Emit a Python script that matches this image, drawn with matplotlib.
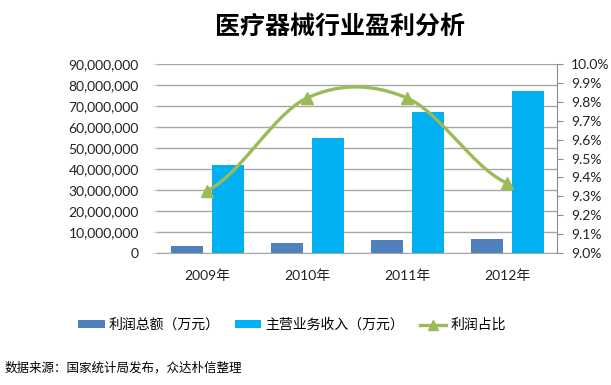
import numpy as np
import matplotlib
matplotlib.use("Agg")
import matplotlib.pyplot as plt
from matplotlib.ticker import FuncFormatter, MultipleLocator

plt.rcParams['font.family'] = ['Lato', 'Noto Sans CJK SC', 'DejaVu Sans']

years = ['2009年', '2010年', '2011年', '2012年']
profit = [3200000, 4600000, 6200000, 6900000]
revenue = [42000000, 54800000, 67000000, 77000000]
ratio = [9.33, 9.82, 9.82, 9.37]

c_dark = '#4F81BD'
c_light = '#00B0F0'
c_green = '#9BBB59'
grid_c = '#A6A6A6'

fig = plt.figure(figsize=(6.11, 3.85), dpi=100)
ax = fig.add_axes([157/611, 1-253/385, 400/611, (253-64)/385])
x = np.arange(len(years))
w = 0.32
gap = 0.09
ax.bar(x - (w+gap)/2, profit, w, color=c_dark, label='利润总额（万元）', zorder=3)
ax.bar(x + (w+gap)/2, revenue, w, color=c_light, label='主营业务收入（万元）', zorder=3)
ax.set_xlim(-0.5, len(years)-0.5)
ax.set_ylim(0, 90000000)
ax.yaxis.set_major_locator(MultipleLocator(10000000))
ax.yaxis.set_major_formatter(FuncFormatter(lambda v, p: f'{int(v):,}'))
ax.grid(axis='y', color=grid_c, linewidth=1, zorder=0)
ax.set_xticks(x)
ax.set_xticklabels(years, fontsize=10, family=['Lato', 'Noto Sans CJK SC'])
for s in ['top', 'right', 'left']:
    ax.spines[s].set_visible(False)
ax.spines['bottom'].set_color(grid_c)
ax.tick_params(axis='x', length=0, pad=12, colors='#222222')
ax.tick_params(axis='y', length=3, color='#D0D0D0', labelsize=10, labelcolor='#222222', pad=10)

ax2 = ax.twinx()
ax2.set_ylim(9.0, 10.0)
ax2.yaxis.set_major_locator(MultipleLocator(0.1))
ax2.yaxis.set_major_formatter(FuncFormatter(lambda v, p: f'{v:.1f}%'))
for s in ['top', 'left', 'bottom']:
    ax2.spines[s].set_visible(False)
ax2.spines['right'].set_color('#8C8C8C')
ax2.tick_params(axis='y', length=4, color='#8C8C8C', labelsize=10, labelcolor='#222222', pad=6)

# smooth curve (Catmull-Rom style, like Excel smoothing)
p = np.array(ratio, dtype=float)
n = len(p)
m = np.zeros(n)
for i in range(n):
    if i == 0:
        m[i] = (p[1] - p[0]) * 0.5
    elif i == n-1:
        m[i] = (p[-1] - p[-2]) * 0.5
    else:
        m[i] = (p[i+1] - p[i-1]) / 2
xs, ys = [], []
for i in range(n-1):
    t = np.linspace(0, 1, 50)
    h00 = 2*t**3 - 3*t**2 + 1
    h10 = t**3 - 2*t**2 + t
    h01 = -2*t**3 + 3*t**2
    h11 = t**3 - t**2
    xs.append(i + t)
    ys.append(h00*p[i] + h10*m[i] + h01*p[i+1] + h11*m[i+1])
ax2.plot(np.concatenate(xs), np.concatenate(ys), color=c_green, linewidth=2.4, zorder=4)
ax2.plot(x, ratio, linestyle='none', marker='^', markersize=8, color=c_green, zorder=5)
line_handle = plt.Line2D([], [], color=c_green, linewidth=2.4, marker='^', markersize=7)

h1, l1 = ax.get_legend_handles_labels()
fig.legend(h1 + [line_handle], l1 + ['利润占比'], loc='center', bbox_to_anchor=(292/611, 1-325/385),
           ncol=3, frameon=False, prop={'family': ['Noto Sans CJK SC'], 'size': 10},
           handlelength=1.9, handleheight=0.5, columnspacing=1.1, handletextpad=0.3, numpoints=1)

fig.text(340/611, 1-27/385, '医疗器械行业盈利分析', ha='center', va='center', fontsize=18,
         fontweight='bold', family=['Noto Sans CJK SC'])
fig.text(5/611, 1-368/385, '数据来源：国家统计局发布，众达朴信整理', ha='left', va='center',
         fontsize=9, family=['Noto Sans CJK SC'])

fig.savefig('out.png', dpi=100)
